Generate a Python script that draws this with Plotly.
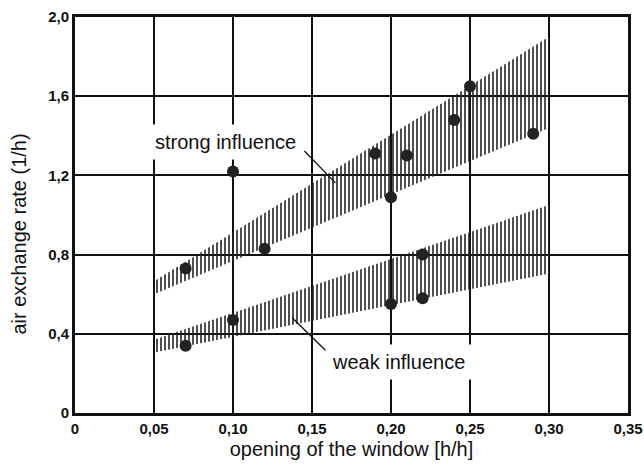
import plotly.graph_objects as go

# Measured points
x_pts = [0.07, 0.10, 0.12, 0.19, 0.20, 0.21, 0.24, 0.25, 0.29,
         0.07, 0.10, 0.20, 0.22, 0.22]
y_pts = [0.73, 1.22, 0.83, 1.31, 1.09, 1.30, 1.48, 1.65, 1.41,
         0.34, 0.47, 0.55, 0.80, 0.58]

# Bands (ends at x = 0.05 and x = 0.30)
band_x = [0.05, 0.30]
strong_low = [0.60, 1.44]
strong_high = [0.665, 1.90]
weak_low = [0.305, 0.705]
weak_high = [0.37, 1.05]

x_ticks = [0, 0.05, 0.10, 0.15, 0.20, 0.25, 0.30, 0.35]
x_ticktext = ["0", "0,05", "0,10", "0,15", "0,20", "0,25", "0,30", "0,35"]
y_ticks = [0, 0.4, 0.8, 1.2, 1.6, 2.0]
y_ticktext = ["0", "0,4", "0,8", "1,2", "1,6", "2,0"]

FONT = "Liberation Sans, Arial, sans-serif"

fig = go.Figure()

for low, high in [(strong_low, strong_high), (weak_low, weak_high)]:
    xs = band_x + band_x[::-1] + [band_x[0]]
    ys = low + high[::-1] + [low[0]]
    fig.add_trace(go.Scatter(
        x=xs, y=ys, mode="lines", fill="toself",
        fillcolor="rgba(255,255,255,0)",
        fillpattern=dict(shape="|", size=4, solidity=0.4, fgopacity=1,
                         fgcolor="#222222", bgcolor="rgba(255,255,255,0)"),
        line=dict(width=0), hoverinfo="skip", showlegend=False))

fig.add_trace(go.Scatter(
    x=x_pts, y=y_pts, mode="markers",
    marker=dict(size=12, color="#222222"), showlegend=False))

axis_common = dict(showgrid=True, gridcolor="#111111", gridwidth=1.6,
                   showline=True, linecolor="#111111", linewidth=3,
                   mirror=True, zeroline=False, ticks="", automargin=False,
                   ticklabeloverflow="allow",
                   tickfont=dict(family=FONT, size=15, color="#111111", weight="bold"))

fig.update_xaxes(range=[0, 0.35], tickvals=x_ticks, ticktext=x_ticktext,
                 title=dict(text="opening of the window [h/h]",
                            font=dict(family=FONT, size=20, color="#111111"),
                            standoff=6),
                 **axis_common)
fig.update_yaxes(range=[0, 2.0], tickvals=y_ticks, ticktext=y_ticktext,
                 **axis_common)

# y-axis title (placed slightly below plot centre, as in the original)
fig.add_annotation(xref="paper", yref="paper", x=-0.102, y=0.452,
                   text="air exchange rate (1/h)", textangle=-90,
                   showarrow=False, xanchor="center", yanchor="middle",
                   font=dict(family=FONT, size=20, color="#111111"))

fig.add_annotation(x=0.0953, y=1.369, text="strong influence", showarrow=False,
                   font=dict(family=FONT, size=20, color="#111111"),
                   bgcolor="white", borderpad=6)
fig.add_annotation(x=0.2045, y=0.258, text="weak influence", showarrow=False,
                   font=dict(family=FONT, size=20, color="#111111"),
                   bgcolor="white", borderpad=6)

fig.add_shape(type="line", x0=0.1452, y0=1.323, x1=0.1648, y1=1.162,
              line=dict(color="#111111", width=1.3), layer="above")
fig.add_shape(type="line", x0=0.1376, y0=0.480, x1=0.159, y1=0.313,
              line=dict(color="#111111", width=1.3), layer="above")

fig.update_layout(width=644, height=469,
                  margin=dict(l=75, r=16, t=17, b=56),
                  plot_bgcolor="white", paper_bgcolor="white")

fig.write_html("out.html")
